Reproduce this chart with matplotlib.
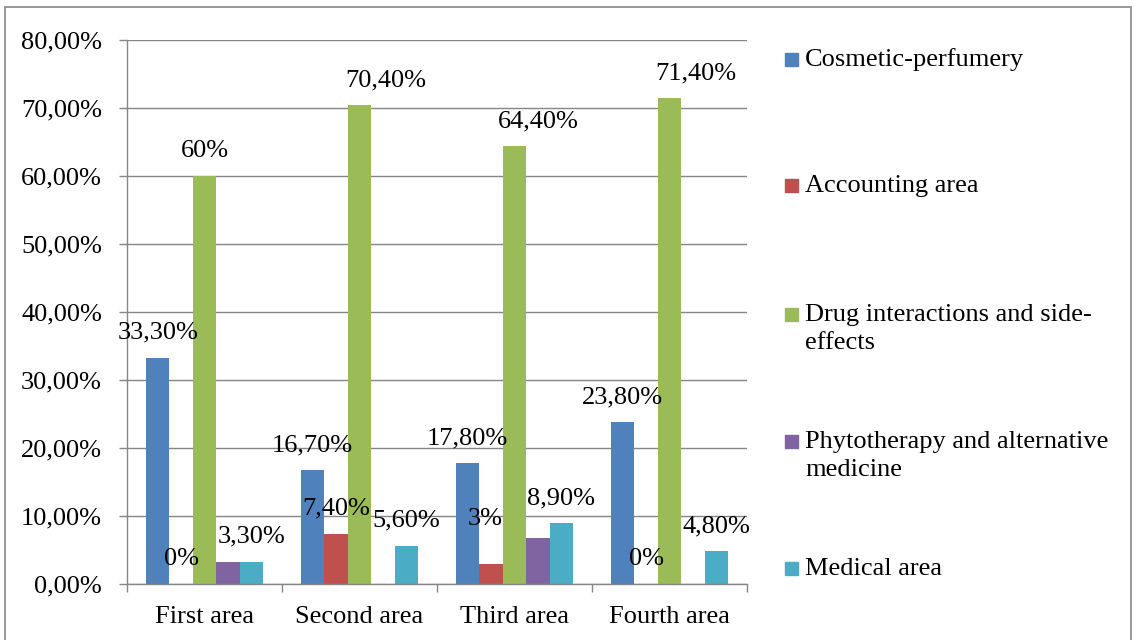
import matplotlib.pyplot as plt
import numpy as np
from matplotlib.patches import Rectangle

plt.rcParams['font.family'] = ['Liberation Serif', 'DejaVu Serif']

# 数据
groups = ['First area', 'Second area', 'Third area', 'Fourth area']
series = ['Cosmetic-perfumery', 'Accounting area',
          'Drug interactions and side-\neffects',
          'Phytotherapy and alternative\nmedicine', 'Medical area']
cosmetic = [33.3, 16.7, 17.8, 23.8]
accounting = [0.0, 7.4, 3.0, 0.0]
drug = [60.0, 70.4, 64.4, 71.4]
phyto = [3.3, 0.0, 6.7, 0.0]
medical = [3.3, 5.6, 8.9, 4.8]

cosmetic_lbl = ['33,30%', '16,70%', '17,80%', '23,80%']
accounting_lbl = ['0%', '7,40%', '3%', '0%']
drug_lbl = ['60%', '70,40%', '64,40%', '71,40%']
phyto_lbl = ['', '', '', '']
medical_lbl = ['3,30%', '5,60%', '8,90%', '4,80%']

colors = ['#4F81BD', '#C0504D', '#9BBB59', '#8064A2', '#4BACC6']
values = [cosmetic, accounting, drug, phyto, medical]
labels = [cosmetic_lbl, accounting_lbl, drug_lbl, phyto_lbl, medical_lbl]

FS = 19

# 标签手动偏移 (像素)
shift = {(2, 1): (26, 0), (2, 2): (24, 0), (2, 3): (26, 0), (1, 2): (-6, 20)}

fig = plt.figure(figsize=(11.34, 6.4), dpi=100)
ax = fig.add_axes([127/1134, 1-584/640, 620/1134, 544/640])

x = np.arange(len(groups))
w = 0.151
for i, (vals, c) in enumerate(zip(values, colors)):
    pos = x - 2*w + i*w
    ax.bar(pos, vals, width=w, color=c, zorder=3)
    for j, (p, v) in enumerate(zip(pos, vals)):
        t = labels[i][j]
        if not t:
            continue
        dx, dy = shift.get((i, j), (0, 0))
        ax.annotate(t, xy=(p, v), xytext=(dx*0.72, (25+dy)*0.72),
                    textcoords='offset points', ha='center', va='center',
                    fontsize=FS, zorder=5)

ax.set_xlim(-0.5, 3.5)
ax.set_ylim(0, 80)
ax.set_yticks(np.arange(0, 81, 10))
ax.set_yticklabels(['%d,00%%' % v for v in range(0, 81, 10)], fontsize=FS)
ax.set_xticks(x)
ax.set_xticklabels(groups, fontsize=FS)
ax.set_xticks(np.arange(-0.5, 4, 1), minor=True)
ax.tick_params(axis='x', which='major', length=0, pad=16)
ax.tick_params(axis='x', which='minor', length=6, color='#868686', width=1)
ax.tick_params(axis='y', length=6, color='#868686', width=1, pad=12)
ax.grid(axis='y', color='#868686', lw=1, zorder=0)
for s in ['top', 'right']:
    ax.spines[s].set_visible(False)
for s in ['left', 'bottom']:
    ax.spines[s].set_color('#868686')
    ax.spines[s].set_linewidth(1)
    ax.spines[s].set_zorder(4)

# 图例 (手动)
leg_y = [60, 186, 329, 456, 569]
for name, c, yy in zip(series, colors, leg_y):
    nl = name.count('\n')
    top = yy - nl*14.5
    fig.patches.append(Rectangle((785/1134, 1-(top+6)/640), 13/1134, 13/640,
                                 color=c, transform=fig.transFigure))
    fig.text(805/1134, 1-yy/640, name, fontsize=FS, va='center', ha='left',
             linespacing=1.32)

# 外框
fig.patches.append(Rectangle((5/1134, -2/640), 1126/1134, 635/640, fill=False,
                             edgecolor='#868686', lw=1.2,
                             transform=fig.transFigure))

fig.savefig('out.png', dpi=100)
